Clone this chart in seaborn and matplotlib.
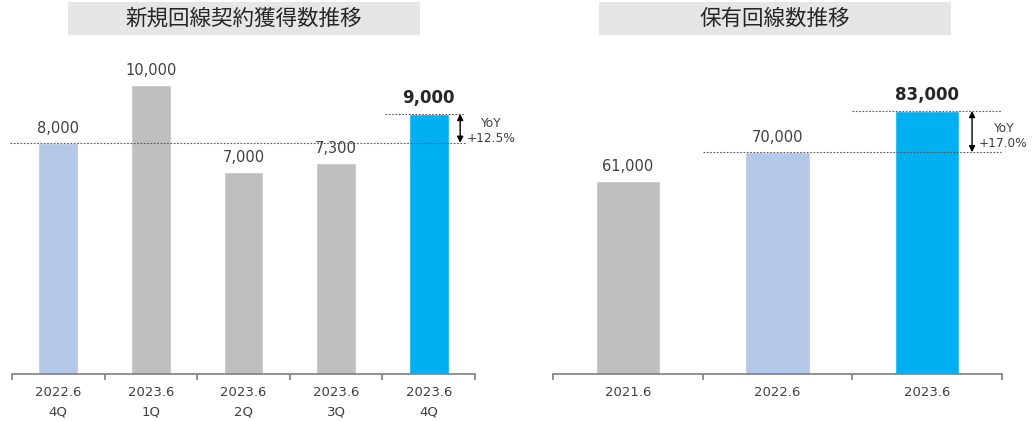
import matplotlib
matplotlib.use("Agg")
import matplotlib.pyplot as plt
import seaborn as sns
import numpy as np
from matplotlib.patches import Rectangle

# ---- data ----
new_title = "新規回線契約獲得数推移"
new_labels = ["2022.6\n4Q", "2023.6\n1Q", "2023.6\n2Q", "2023.6\n3Q", "2023.6\n4Q"]
new_values = [8000, 10000, 7000, 7300, 9000]
new_yoy = "YoY\n+12.5%"

held_title = "保有回線数推移"
held_labels = ["2021.6", "2022.6", "2023.6"]
held_values = [61000, 70000, 83000]
held_yoy = "YoY\n+17.0%"

LIGHT = "#b4c7e7"
GRAY = "#bfbfbf"
BLUE = "#00b0f0"
TXT = "#404040"
new_colors = [LIGHT, GRAY, GRAY, GRAY, BLUE]
held_colors = [GRAY, LIGHT, BLUE]

sns.set_theme(style="white")
plt.rcParams["font.family"] = ["DejaVu Sans", "Noto Sans CJK JP"]

W, H = 1032, 421
fig = plt.figure(figsize=(W / 100, H / 100), dpi=100)


def make_axes(x0, x1, base, px_per_unit, ymax):
    h = px_per_unit * ymax
    return fig.add_axes([x0 / W, (H - base) / H, (x1 - x0) / W, h / H])


def style_axes(ax, n, ymax):
    ax.set_ylim(0, ymax)
    ax.set_xlim(-0.5, n - 0.5)
    for s in ["top", "right", "left"]:
        ax.spines[s].set_visible(False)
    ax.spines["bottom"].set_color("#7f7f7f")
    ax.spines["bottom"].set_linewidth(1.2)
    ax.set_yticks([])
    ax.set_xlabel("")
    ax.set_ylabel("")
    ax.set_xticks(np.arange(-0.5, n, 1.0), minor=True)
    ax.tick_params(axis="x", which="minor", length=4, width=1.2, color="#7f7f7f",
                   direction="out", bottom=True)
    ax.tick_params(axis="x", which="major", length=0, pad=9, labelsize=9.5,
                   labelcolor=TXT)
    for t in ax.get_xticklabels():
        t.set_linespacing(1.6)
        t.set_verticalalignment("top")


def title_box(x0, x1, text):
    fig.patches.append(Rectangle((x0 / W, 1 - 35 / H), (x1 - x0) / W, 33 / H,
                                 transform=fig.transFigure, facecolor="#e7e6e6",
                                 edgecolor="none", zorder=0))
    fig.text((x0 + x1) / 2 / W, 1 - 18.5 / H, text, ha="center", va="center",
             fontsize=15.5, color="#262626", family=["Noto Sans CJK JP"])


def value_labels(ax, values, bold_idx):
    for i, v in enumerate(values):
        bold = i == bold_idx
        ax.annotate(f"{v:,}", (i, v), xytext=(0, 5), textcoords="offset points",
                    ha="center", va="bottom", color=TXT if not bold else "#262626",
                    fontsize=12 if bold else 10.5,
                    fontweight="bold" if bold else "normal", annotation_clip=False)


def yoy(ax, x_arrow, y0, y1, x_text, text):
    ax.annotate("", xy=(x_arrow, y1), xytext=(x_arrow, y0),
                arrowprops=dict(arrowstyle="<|-|>", color="black", lw=1.0,
                                mutation_scale=9, shrinkA=0, shrinkB=0),
                annotation_clip=False)
    ax.text(x_text, (y0 + y1) / 2 - (y1 - y0) * 0.1, text, ha="center", va="center",
            fontsize=8.8, color=TXT, linespacing=1.2, clip_on=False)


# ---- left: new contracts ----
ymax_l = 11000
ax1 = make_axes(12, 475, 374, (374 - 85) / 10000, ymax_l)
sns.barplot(x=new_labels, y=new_values, hue=new_labels, palette=new_colors,
            legend=False, width=0.43, saturation=1, ax=ax1)
style_axes(ax1, len(new_values), ymax_l)
value_labels(ax1, new_values, len(new_values) - 1)
ax1.plot([-0.52, 4.39], [new_values[0]] * 2, ls=(0, (1.5, 1.5)), color="#555555",
         lw=0.8, clip_on=False, zorder=3)
ax1.plot([3.53, 4.39], [new_values[-1]] * 2, ls=(0, (1.5, 1.5)), color="#555555",
         lw=0.8, clip_on=False, zorder=3)
yoy(ax1, 4.34, new_values[0], new_values[-1], 4.67, new_yoy)

# ---- right: lines held ----
ymax_r = 95000
ax2 = make_axes(553, 1002, 374, (374 - 111) / 83000, ymax_r)
sns.barplot(x=held_labels, y=held_values, hue=held_labels, palette=held_colors,
            legend=False, width=0.43, saturation=1, ax=ax2)
style_axes(ax2, len(held_values), ymax_r)
value_labels(ax2, held_values, len(held_values) - 1)
ax2.plot([0.5, 2.49], [held_values[1]] * 2, ls=(0, (1.5, 1.5)), color="#555555",
         lw=0.8, clip_on=False, zorder=3)
ax2.plot([1.5, 2.5], [held_values[2]] * 2, ls=(0, (1.5, 1.5)), color="#555555",
         lw=0.8, clip_on=False, zorder=3)
yoy(ax2, 2.30, held_values[1], held_values[2], 2.51, held_yoy)

title_box(68, 420, new_title)
title_box(599, 951, held_title)

fig.savefig("out.png", dpi=100)
